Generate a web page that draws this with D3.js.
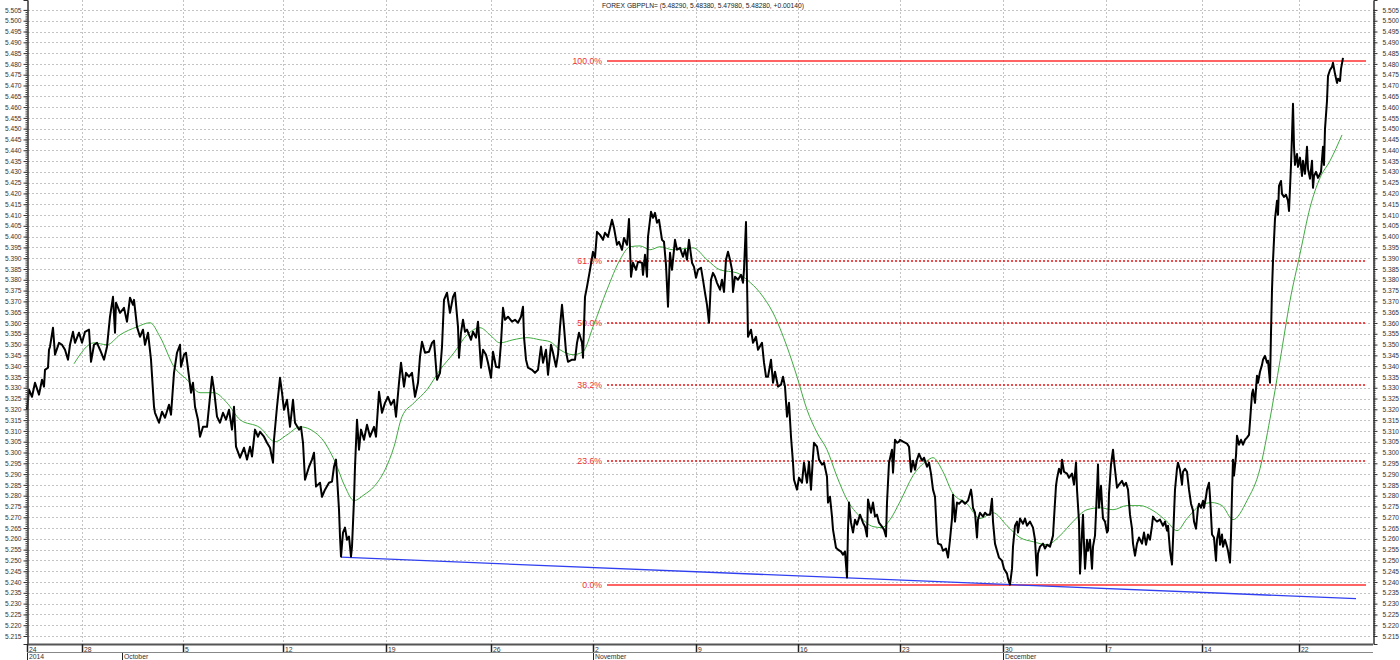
<!DOCTYPE html>
<html><head><meta charset="utf-8">
<script src="https://cdn.jsdelivr.net/npm/d3@7"></script>
<style>body{margin:0;background:#fff;}svg{display:block;font-family:"Liberation Sans",Arial,sans-serif;}</style>
</head><body><svg id="c" width="1400" height="660"></svg>
<script>
const titleText = "FOREX GBPPLN= (5.48290, 5.48380, 5.47980, 5.48280, +0.00140)";
// [bar index, close]
const priceData = [[0,5.3198],[2,5.3291],[5,5.3258],[8,5.3323],[12,5.3268],[15,5.3337],[17,5.3305],[18,5.3383],[21,5.3393],[22,5.3476],[23,5.349],[26,5.3578],[28,5.3453],[32,5.3508],[35,5.3499],[38,5.3476],[41,5.343],[43,5.3499],[46,5.3559],[48,5.3508],[52,5.3555],[55,5.3508],[58,5.3559],[62,5.3569],[64,5.342],[67,5.3499],[70,5.3508],[73,5.3476],[77,5.343],[80,5.349],[83,5.3629],[86,5.3721],[88,5.3555],[89,5.3694],[93,5.3647],[97,5.367],[100,5.3606],[103,5.3717],[106,5.3684],[107,5.3707],[110,5.3582],[113,5.3536],[116,5.3569],[118,5.3499],[121,5.3555],[124,5.343],[127,5.3212],[128,5.3184],[132,5.3138],[135,5.3189],[138,5.3161],[142,5.3221],[144,5.3175],[147,5.3369],[150,5.3462],[153,5.3499],[154,5.3397],[157,5.3453],[159,5.3462],[162,5.3351],[164,5.3277],[166,5.3323],[168,5.3212],[171,5.3152],[173,5.3073],[176,5.3119],[180,5.3119],[183,5.3258],[185,5.3351],[187,5.3291],[190,5.3166],[193,5.3138],[196,5.3184],[199,5.3152],[202,5.3198],[205,5.3106],[207,5.3212],[209,5.3027],[213,5.2976],[217,5.3022],[220,5.2967],[223,5.3027],[225,5.2981],[228,5.3106],[231,5.3073],[233,5.3096],[237,5.3073],[240,5.3045],[243,5.3022],[246,5.2953],[247,5.3059],[250,5.3212],[253,5.3346],[255,5.3277],[257,5.3198],[260,5.3244],[263,5.3119],[266,5.3244],[268,5.3138],[272,5.3106],[274,5.3119],[276,5.3045],[278,5.2874],[282,5.2934],[285,5.2967],[287,5.2999],[289,5.2842],[293,5.286],[295,5.2795],[298,5.2828],[302,5.286],[305,5.2865],[307,5.2934],[309,5.2967],[312,5.2735],[313,5.2611],[314,5.2518],[316,5.2629],[318,5.2652],[320,5.2596],[322,5.2611],[324,5.2518],[325,5.2564],[327,5.2782],[328,5.2934],[330,5.3152],[332,5.3013],[334,5.3106],[337,5.3059],[340,5.3129],[343,5.3073],[347,5.3119],[349,5.3073],[352,5.3281],[355,5.3184],[358,5.323],[361,5.3258],[364,5.3221],[367,5.3244],[369,5.3166],[372,5.3323],[374,5.3416],[377,5.3305],[379,5.3369],[382,5.3351],[385,5.3369],[388,5.3258],[391,5.3323],[393,5.3444],[395,5.3513],[398,5.3462],[402,5.3467],[405,5.3508],[407,5.3518],[410,5.3337],[413,5.3369],[415,5.349],[417,5.3707],[420,5.374],[423,5.3647],[426,5.3721],[428,5.374],[431,5.3582],[432,5.3439],[434,5.3555],[436,5.3615],[438,5.3559],[440,5.3569],[444,5.3522],[446,5.3559],[449,5.3532],[451,5.3606],[454,5.3393],[456,5.3476],[459,5.3453],[461,5.3416],[464,5.3346],[466,5.3467],[469,5.3397],[472,5.3393],[474,5.3508],[476,5.367],[478,5.3615],[481,5.3629],[485,5.3606],[488,5.3615],[491,5.3601],[494,5.3629],[496,5.3675],[497,5.3536],[499,5.343],[501,5.3393],[505,5.3383],[508,5.3369],[511,5.3383],[514,5.349],[516,5.3416],[519,5.3476],[521,5.336],[524,5.3499],[526,5.3462],[529,5.3397],[531,5.3453],[533,5.3582],[535,5.3684],[537,5.3582],[539,5.3467],[541,5.342],[545,5.343],[548,5.343],[550,5.3508],[552,5.3555],[555,5.3508],[556,5.3439],[558,5.3721],[560,5.3768],[563,5.3846],[566,5.393],[568,5.3902],[570,5.4022],[573,5.4008],[576,5.3985],[578,5.4018],[581,5.3999],[585,5.4078],[587,5.4041],[590,5.3962],[592,5.3976],[595,5.3939],[597,5.3994],[600,5.3962],[602,5.4082],[604,5.3814],[606,5.3879],[609,5.3846],[611,5.3883],[615,5.3879],[616,5.3823],[618,5.3916],[620,5.3814],[621,5.3999],[624,5.4115],[626,5.4087],[628,5.411],[630,5.4064],[632,5.4078],[635,5.3985],[637,5.3976],[639,5.3869],[641,5.3675],[643,5.3925],[645,5.3846],[648,5.3985],[650,5.3939],[653,5.3948],[656,5.3907],[658,5.3939],[660,5.3893],[662,5.3985],[665,5.3879],[667,5.386],[669,5.3809],[671,5.3846],[674,5.3856],[676,5.38],[678,5.374],[680,5.3684],[682,5.3601],[684,5.38],[686,5.3832],[688,5.3814],[690,5.3786],[693,5.3754],[695,5.38],[697,5.3744],[699,5.3893],[701,5.393],[703,5.3893],[705,5.3846],[706,5.3744],[708,5.3814],[711,5.38],[714,5.3823],[716,5.3786],[717,5.3846],[719,5.4068],[720,5.38],[721,5.3536],[724,5.3569],[726,5.3508],[729,5.3536],[731,5.3476],[735,5.3508],[737,5.3416],[739,5.3351],[741,5.3351],[744,5.343],[746,5.3323],[748,5.3374],[751,5.3305],[754,5.3314],[756,5.3351],[758,5.3305],[760,5.3166],[762,5.323],[764,5.3073],[766,5.2953],[767,5.2874],[770,5.2828],[772,5.2883],[775,5.286],[777,5.2953],[780,5.286],[782,5.2957],[784,5.2828],[786,5.2981],[787,5.3045],[790,5.3027],[792,5.2967],[795,5.2944],[797,5.2953],[800,5.2888],[801,5.2768],[803,5.2795],[805,5.2703],[806,5.2643],[809,5.2559],[811,5.255],[814,5.2541],[816,5.2527],[818,5.2541],[820,5.2421],[821,5.2643],[822,5.2768],[824,5.2675],[826,5.2629],[828,5.2689],[830,5.2666],[833,5.2712],[836,5.2675],[838,5.2657],[840,5.2611],[841,5.2782],[844,5.2721],[846,5.2768],[848,5.2703],[850,5.2712],[852,5.2675],[855,5.2657],[857,5.2643],[859,5.2611],[860,5.2768],[862,5.2953],[865,5.3013],[866,5.2906],[868,5.3059],[870,5.3045],[872,5.305],[873,5.3059],[876,5.305],[880,5.3041],[882,5.3027],[884,5.2911],[886,5.2962],[888,5.292],[890,5.2967],[892,5.2994],[895,5.2962],[897,5.2976],[900,5.2934],[902,5.2953],[904,5.2902],[906,5.2828],[908,5.2795],[910,5.2615],[911,5.2578],[914,5.2573],[916,5.2545],[919,5.2555],[921,5.2513],[923,5.2596],[925,5.2694],[926,5.2804],[928,5.268],[930,5.2768],[932,5.2763],[935,5.2777],[938,5.2763],[941,5.2777],[944,5.2828],[945,5.2795],[946,5.2744],[948,5.2721],[950,5.2606],[951,5.2689],[953,5.2721],[956,5.2703],[958,5.2721],[960,5.2712],[963,5.2712],[965,5.2786],[966,5.268],[968,5.2578],[970,5.2545],[972,5.2513],[975,5.2499],[977,5.2462],[980,5.2439],[981,5.2416],[983,5.2388],[985,5.2462],[986,5.2564],[988,5.2661],[990,5.268],[991,5.2629],[993,5.2694],[996,5.267],[998,5.2694],[1000,5.2661],[1003,5.268],[1006,5.2652],[1008,5.2596],[1010,5.243],[1011,5.2532],[1013,5.2564],[1016,5.2578],[1018,5.2555],[1020,5.2573],[1023,5.2564],[1026,5.2615],[1027,5.2694],[1029,5.2846],[1030,5.2879],[1032,5.2925],[1034,5.2902],[1035,5.2967],[1037,5.2911],[1040,5.2902],[1042,5.2883],[1045,5.2902],[1047,5.2851],[1049,5.2953],[1050,5.2828],[1052,5.268],[1053,5.2439],[1055,5.2629],[1056,5.2712],[1057,5.2578],[1058,5.2462],[1060,5.2596],[1061,5.2545],[1063,5.2596],[1065,5.2462],[1066,5.2564],[1068,5.2615],[1070,5.2828],[1071,5.2944],[1072,5.2744],[1074,5.2846],[1075,5.2763],[1076,5.2694],[1078,5.268],[1080,5.2629],[1081,5.2638],[1082,5.2809],[1084,5.2944],[1086,5.3013],[1087,5.2962],[1089,5.2879],[1090,5.2837],[1092,5.2851],[1095,5.2869],[1097,5.2846],[1099,5.286],[1101,5.2828],[1103,5.2712],[1105,5.2647],[1106,5.2578],[1108,5.2522],[1110,5.2578],[1112,5.2606],[1115,5.2578],[1117,5.2629],[1119,5.2573],[1121,5.262],[1123,5.2596],[1125,5.2661],[1126,5.2703],[1128,5.2689],[1130,5.268],[1133,5.2689],[1136,5.2661],[1138,5.268],[1140,5.2638],[1141,5.2661],[1143,5.2545],[1145,5.2481],[1146,5.2596],[1147,5.2712],[1148,5.2828],[1150,5.2925],[1151,5.2953],[1153,5.292],[1155,5.2851],[1156,5.2911],[1158,5.2925],[1160,5.2911],[1162,5.2828],[1164,5.2763],[1166,5.2731],[1167,5.268],[1169,5.2647],[1171,5.2744],[1172,5.2763],[1174,5.2744],[1176,5.2777],[1177,5.2744],[1179,5.2795],[1180,5.2828],[1182,5.286],[1183,5.2795],[1184,5.2712],[1185,5.262],[1187,5.2606],[1189,5.2499],[1190,5.2596],[1192,5.2647],[1193,5.2573],[1195,5.262],[1196,5.2564],[1198,5.2596],[1200,5.2564],[1201,5.2545],[1203,5.249],[1204,5.2615],[1205,5.2809],[1206,5.2967],[1207,5.2893],[1209,5.2985],[1210,5.3078],[1212,5.3036],[1214,5.3059],[1216,5.3036],[1218,5.3059],[1220,5.3069],[1222,5.3082],[1223,5.3142],[1225,5.3272],[1226,5.3291],[1228,5.323],[1230,5.3356],[1231,5.3323],[1233,5.3374],[1235,5.3406],[1236,5.343],[1238,5.3448],[1240,5.3416],[1241,5.3425],[1243,5.3323],[1244,5.3555],[1245,5.3754],[1246,5.3888],[1247,5.3985],[1248,5.4082],[1250,5.4166],[1251,5.4101],[1252,5.4235],[1254,5.4258],[1255,5.4198],[1257,5.4184],[1259,5.4194],[1261,5.4166],[1262,5.4119],[1264,5.4332],[1265,5.4467],[1266,5.4615],[1267,5.4416],[1268,5.4332],[1270,5.4383],[1271,5.4323],[1273,5.4365],[1275,5.4281],[1276,5.4351],[1278,5.4291],[1280,5.4416],[1281,5.4314],[1283,5.4268],[1285,5.4351],[1286,5.4226],[1287,5.4281],[1289,5.43],[1291,5.4272],[1292,5.4281],[1294,5.43],[1296,5.4416],[1297,5.4332],[1298,5.4499],[1300,5.4629],[1301,5.4744],[1303,5.4772],[1305,5.4786],[1306,5.4805],[1308,5.4754],[1310,5.4712],[1311,5.4731],[1313,5.4721],[1314,5.4777],[1316,5.4828]];
// moving average [bar index, value]
const maData = [[47,5.3411],[67,5.3508],[80,5.3499],[93,5.3545],[110,5.3582],[123,5.3601],[133,5.3536],[147,5.3397],[160,5.3337],[173,5.3277],[187,5.3277],[200,5.323],[213,5.3152],[233,5.3115],[248,5.305],[260,5.3082],[273,5.3119],[293,5.3073],[308,5.2957],[318,5.2842],[327,5.2777],[337,5.2804],[347,5.2842],[358,5.292],[367,5.3027],[375,5.3166],[387,5.323],[400,5.3291],[413,5.3383],[427,5.3462],[440,5.3545],[453,5.3578],[463,5.3545],[473,5.3508],[486,5.3522],[500,5.3532],[513,5.3522],[523,5.3513],[533,5.3476],[546,5.3453],[556,5.3467],[566,5.3582],[580,5.3754],[593,5.3893],[603,5.3953],[613,5.3957],[623,5.3939],[633,5.3953],[646,5.3939],[666,5.3948],[680,5.3893],[693,5.3846],[710,5.3832],[720,5.38],[733,5.374],[746,5.3647],[760,5.349],[770,5.3351],[780,5.3198],[790,5.3092],[800,5.3013],[810,5.2888],[820,5.2782],[833,5.2703],[846,5.2657],[855,5.2652],[863,5.2689],[873,5.2772],[886,5.2893],[900,5.2962],[906,5.2976],[916,5.2911],[926,5.2809],[940,5.2763],[953,5.2694],[966,5.2721],[980,5.2661],[993,5.2606],[1006,5.2587],[1020,5.2573],[1033,5.2615],[1046,5.268],[1060,5.2735],[1073,5.2744],[1086,5.2735],[1100,5.2754],[1113,5.2754],[1126,5.2731],[1140,5.268],[1150,5.2638],[1160,5.2694],[1173,5.2754],[1185,5.2768],[1195,5.2754],[1206,5.2689],[1220,5.2777],[1233,5.2925],[1243,5.3156],[1253,5.3425],[1263,5.3703],[1273,5.392],[1283,5.4134],[1293,5.4272],[1303,5.4351],[1315,5.4471]];
const trendBars = [314, 1329];
const trendValues = [5.2515, 5.2323];
const fibHigh = 5.4814, fibLow = 5.2388;
const fibRatios = [1, 0.618, 0.5, 0.382, 0.236, 0];
const fibLabels = ["100.0%", "61.8%", "50.0%", "38.2%", "23.6%", "0.0%"];
const fibBars = [580, 1339];
const weekTickBars = [0, 55, 156, 256, 359, 464, 566, 669, 771, 873, 976, 1079, 1175, 1272];
const weekTickLabels = ["24", "28", "5", "12", "19", "26", "2", "9", "16", "23", "30", "7", "14", "22"];
const monthBars = [0, 95, 566, 976];
const monthLabels = ["2014", "October", "November", "December"];
const yTickValues = d3.range(0, 59).map(i => +(5.215 + i * 0.005).toFixed(3));
const yMinorValues = d3.range(0, 291).map(i => +(5.215 + i * 0.001).toFixed(3));

const svg = d3.select("#c");
const L = 27, R = 1373, T = 0, B = 644;
const x = d3.scaleLinear().domain([0, 1346]).range([L, R]);
const y = d3.scaleLinear().domain([5.2113, 5.5096]).range([B, T]);
const FONT = '"Liberation Sans",Arial,sans-serif';

// grid
const grid = svg.append("g");
grid.selectAll("line.h").data(yTickValues).join("line")
  .attr("x1", L + 1).attr("x2", R - 1)
  .attr("y1", d => Math.round(y(d)) + 0.5).attr("y2", d => Math.round(y(d)) + 0.5)
  .attr("stroke", "#c4c4c4").attr("stroke-dasharray", "2,2");
grid.selectAll("line.v").data(weekTickBars.slice(1)).join("line")
  .attr("x1", d => Math.round(x(d)) + 0.5).attr("x2", d => Math.round(x(d)) + 0.5)
  .attr("y1", T).attr("y2", B)
  .attr("stroke", "#c4c4c4").attr("stroke-dasharray", "2,2");

// title
svg.append("text").attr("x", 602).attr("y", 7.5).attr("font-size", 6.7).attr("fill", "#222").text(titleText);

// fib levels
const fibG = svg.append("g");
fibRatios.forEach((r, i) => {
  const v = fibLow + r * (fibHigh - fibLow);
  const yy = Math.round(y(v));
  const solid = (r === 1 || r === 0);
  fibG.append("line").attr("x1", x(fibBars[0])).attr("x2", x(fibBars[1]))
    .attr("y1", yy).attr("y2", yy)
    .attr("stroke", solid ? "#ff3030" : "#f01010")
    .attr("stroke-width", solid ? 1.6 : 1.4)
    .attr("stroke-dasharray", solid ? null : "2,2");
  fibG.append("text").attr("x", x(fibBars[0]) - 5).attr("y", yy + 3)
    .attr("text-anchor", "end").attr("font-size", 8.7).attr("fill", "#f03030").text(fibLabels[i]);
});

// trendline
svg.append("line").attr("x1", x(trendBars[0])).attr("y1", y(trendValues[0]))
  .attr("x2", x(trendBars[1])).attr("y2", y(trendValues[1]))
  .attr("stroke", "#3040f0").attr("stroke-width", 1.3);

// MA line
svg.append("path").datum(maData)
  .attr("d", d3.line().x(d => x(d[0])).y(d => y(d[1])).curve(d3.curveMonotoneX))
  .attr("fill", "none").attr("stroke", "#3faa3f").attr("stroke-width", 1);

// price line
svg.append("path").datum(priceData)
  .attr("d", d3.line().x(d => x(d[0])).y(d => y(d[1])))
  .attr("fill", "none").attr("stroke", "#000").attr("stroke-width", 2).attr("stroke-linejoin", "round");

// axes
const fmt = d3.format(".3f");
const left = svg.append("g").attr("transform", `translate(${L + 0.5},0)`);
left.call(d3.axisLeft(y).tickValues(yMinorValues).tickSize(2).tickFormat(""));
left.call(g => g.append("g").call(d3.axisLeft(y).tickValues(yTickValues).tickSize(4).tickFormat(fmt)));
const right = svg.append("g").attr("transform", `translate(${R + 0.5},0)`);
right.call(d3.axisRight(y).tickValues(yMinorValues).tickSize(2).tickFormat(""));
right.call(g => g.append("g").call(d3.axisRight(y).tickValues(yTickValues).tickSize(4).tickFormat(fmt)));
svg.selectAll(".domain").attr("stroke", "#333");
svg.selectAll(".tick line").attr("stroke", "#333");
svg.selectAll(".tick text").attr("font-size", 6.6).attr("fill", "#333").attr("font-family", FONT);
left.selectAll(".tick text").attr("x", -6);
right.selectAll(".tick text").attr("x", 9);

// bottom date band
const band = svg.append("g");
band.append("line").attr("x1", L).attr("x2", R).attr("y1", B + 0.5).attr("y2", B + 0.5).attr("stroke", "#555").attr("stroke-width", 2);
band.append("line").attr("x1", L).attr("x2", R).attr("y1", B + 8.5).attr("y2", B + 8.5).attr("stroke", "#888").attr("stroke-width", 1);
band.selectAll("line.wk").data(weekTickBars).join("line")
  .attr("x1", d => Math.round(x(d)) + 0.5).attr("x2", d => Math.round(x(d)) + 0.5)
  .attr("y1", B).attr("y2", B + 8).attr("stroke", "#222").attr("stroke-width", 1.5);
band.selectAll("text.wk").data(weekTickBars).join("text")
  .attr("x", d => x(d) + 2).attr("y", B + 7.5).attr("font-size", 6.8).attr("fill", "#333")
  .text((d, i) => weekTickLabels[i]);
band.selectAll("line.mo").data(monthBars).join("line")
  .attr("x1", d => Math.round(x(d)) + 0.5).attr("x2", d => Math.round(x(d)) + 0.5)
  .attr("y1", B + 9).attr("y2", 660).attr("stroke", "#222");
band.selectAll("text.mo").data(monthBars).join("text")
  .attr("x", d => x(d) + 2).attr("y", 658.5).attr("font-size", 6.8).attr("fill", "#333")
  .text((d, i) => monthLabels[i]);
</script></body></html>
